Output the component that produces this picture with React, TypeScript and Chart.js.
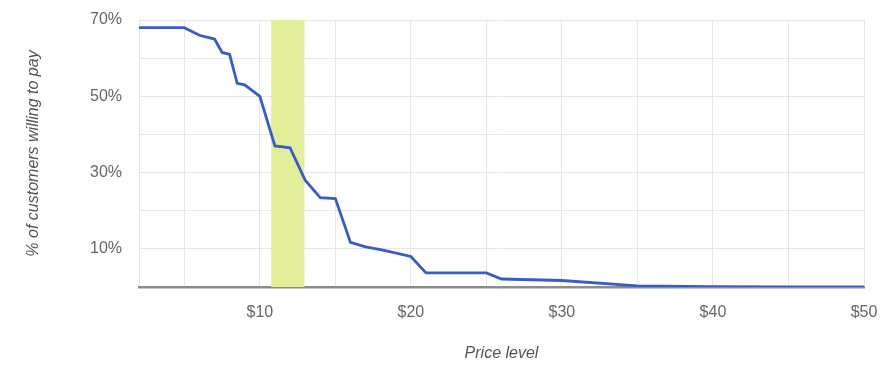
import React, { useEffect, useRef } from "react";
import { Chart, registerables } from "chart.js";

Chart.register(...registerables);

const prices = [2, 3, 4, 5, 6, 7, 7.5, 8, 8.5, 9, 10, 11, 12, 13, 14, 15, 16, 17, 18, 20, 21, 22, 25, 26, 30, 35, 40, 45, 50];
const willingPct = [68, 68, 68, 68, 66, 65, 61.5, 61, 53.4, 53, 50, 37, 36.5, 28, 23.4, 23.2, 11.7, 10.5, 9.8, 8, 3.7, 3.7, 3.7, 2.1, 1.7, 0.3, 0.1, 0, 0];
const xTicks = [2, 5, 10, 15, 20, 25, 30, 35, 40, 45, 50];
const xLabelled = [10, 20, 30, 40, 50];
const yTicks = [0, 10, 20, 30, 40, 50, 60, 70];
const yLabelled = [10, 30, 50, 70];
const bandRange = [10.75, 12.95];

const bandPlugin = {
  id: "band",
  beforeDatasetsDraw(chart: any) {
    const { ctx, chartArea, scales } = chart;
    const x0 = scales.x.getPixelForValue(bandRange[0]);
    const x1 = scales.x.getPixelForValue(bandRange[1]);
    ctx.save();
    ctx.fillStyle = "#e2ee9a";
    ctx.fillRect(x0, chartArea.top, x1 - x0, chartArea.bottom - chartArea.top);
    ctx.restore();
  },
};

export default function App() {
  const ref = useRef<HTMLCanvasElement>(null);
  useEffect(() => {
    document.body.style.margin = "0";
    const chart = new Chart(ref.current!, {
      type: "line",
      data: {
        datasets: [
          {
            data: prices.map((p, i) => ({ x: p, y: willingPct[i] })),
            borderColor: "#3a5cc8",
            borderWidth: 2.8,
            pointRadius: 0,
            tension: 0,
            fill: false,
          },
        ],
      },
      options: {
        animation: false,
        responsive: false,
        maintainAspectRatio: false,
        layout: { padding: { left: 0, right: 32, top: 20, bottom: 0 } },
        plugins: { legend: { display: false }, tooltip: { enabled: false } },
        scales: {
          x: {
            type: "linear",
            min: 2,
            max: 50,
            afterBuildTicks: (s: any) => {
              s.ticks = xTicks.map((v) => ({ value: v }));
            },
            afterFit: (s: any) => {
              s.height = 89;
              s.paddingLeft = 0;
              s.paddingRight = 0;
            },
            ticks: {
              autoSkip: false,
              maxRotation: 0,
              padding: 16,
              color: "#666",
              font: { family: "Liberation Sans, Arial, sans-serif", size: 16 },
              callback: (v: any) => (xLabelled.includes(Number(v)) ? "$" + v : ""),
            },
            grid: { color: "#e6e6e6", lineWidth: 1, drawTicks: false },
            border: { display: true, color: "#8c8c8c", width: 2.5 },
            title: {
              display: true,
              text: "Price level",
              color: "#555",
              font: { family: "Liberation Sans, Arial, sans-serif", size: 16, style: "italic" },
              padding: { top: 0, bottom: 13 },
            },
          },
          y: {
            type: "linear",
            min: 0,
            max: 70,
            afterBuildTicks: (s: any) => {
              s.ticks = yTicks.map((v) => ({ value: v }));
            },
            afterFit: (s: any) => {
              s.width = 139;
              s.paddingTop = 0;
              s.paddingBottom = 0;
            },
            ticks: {
              autoSkip: false,
              padding: 17,
              color: "#666",
              font: { family: "Liberation Sans, Arial, sans-serif", size: 16 },
              callback: (v: any) => (yLabelled.includes(Number(v)) ? v + "%" : ""),
            },
            grid: { color: "#e6e6e6", lineWidth: 1, drawTicks: false },
            border: { display: false },
            title: {
              display: true,
              text: "% of customers willing to pay",
              color: "#555",
              font: { family: "Liberation Sans, Arial, sans-serif", size: 16, style: "italic" },
              padding: { top: 24, bottom: 0 },
            },
          },
        },
      },
      plugins: [bandPlugin],
    });
    return () => chart.destroy();
  }, []);
  return (
    <div style={{ width: 896, height: 376, background: "#fff" }}>
      <canvas ref={ref} width={896} height={376} style={{ display: "block" }} />
    </div>
  );
}
